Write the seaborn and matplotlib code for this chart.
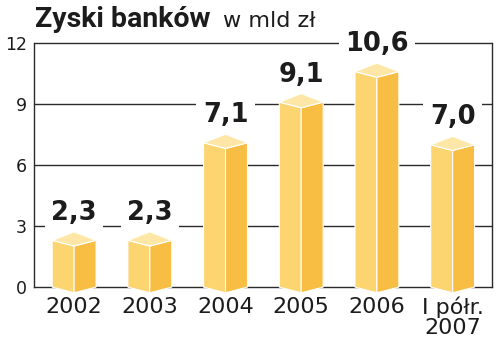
import matplotlib
matplotlib.use("Agg")
import matplotlib.pyplot as plt
import seaborn as sns
import pandas as pd
from matplotlib.patches import Polygon

categories = ["2002", "2003", "2004", "2005", "2006", "I półr.\n2007"]
values = [2.3, 2.3, 7.1, 9.1, 10.6, 7.0]
value_labels = ["2,3", "2,3", "7,1", "9,1", "10,6", "7,0"]
yticks = [0, 3, 6, 9, 12]

title = "Zyski banków"
unit = "w mld zł"

sns.set_theme(style="white")
plt.rcParams["font.family"] = ["DejaVu Sans"]

LEFT = "#FCD470"
RIGHT = "#F8BE44"
TOP = "#FEE7A6"
INK = "#1c1c1c"

df = pd.DataFrame({"cat": categories, "val": values})

fig = plt.figure(figsize=(5.0, 3.48), dpi=100)
ax = fig.add_axes([0.068, 0.175, 0.916, 0.701])

sns.barplot(data=df, x="cat", y="val", color=LEFT, width=0.58, ax=ax,
            saturation=1, zorder=3)

for p, lab in zip(ax.patches, value_labels):
    x0, w, h = p.get_x(), p.get_width(), p.get_height()
    c = x0 + w / 2
    x1 = x0 + w
    p.set_visible(False)
    dn = 0.28
    up = 0.42
    faces = [
        ([(x0, 0), (c, -dn), (c, h - dn), (x0, h)], LEFT),
        ([(c, -dn), (x1, 0), (x1, h), (c, h - dn)], RIGHT),
        ([(x0, h), (c, h - dn), (x1, h), (c, h + up)], TOP),
    ]
    for verts, col in faces:
        ax.add_patch(Polygon(verts, closed=True, facecolor=col,
                             edgecolor="white", linewidth=0.8,
                             zorder=4, clip_on=False))
    ax.text(c, h + 1.35, lab, ha="center", va="center", fontsize=18.5,
            fontweight="bold", color=INK, zorder=6,
            bbox=dict(boxstyle="square,pad=0.25", facecolor="white",
                      edgecolor="none"))

for yv in yticks[1:]:
    ax.axhline(yv, color="#2a2a2a", linewidth=1.0, zorder=1, clip_on=False)

ax.set_ylim(0, 12)
ax.set_xlim(-0.53, 5.52)
ax.set_yticks(yticks)
ax.set_yticklabels([str(v) for v in yticks])
ax.set_xlabel("")
ax.set_ylabel("")
ax.tick_params(axis="y", length=0, pad=5, labelsize=12.5, labelcolor=INK)
ax.tick_params(axis="x", length=0, pad=7, labelsize=16, labelcolor=INK)
for t in ax.get_xticklabels():
    t.set_linespacing(0.95)

for side in ["left", "bottom", "right"]:
    ax.spines[side].set_visible(True)
    ax.spines[side].set_color("#2a2a2a")
    ax.spines[side].set_linewidth(1.0)
ax.spines["top"].set_visible(False)
ax.spines["bottom"].set_zorder(2)

fig.text(0.07, 0.922, title, fontsize=20.5, fontweight="bold", color=INK,
         ha="left", va="baseline", family=["Roboto", "DejaVu Sans"])
fig.text(0.446, 0.922, unit, fontsize=16, color=INK, ha="left",
         va="baseline")

fig.savefig("out.png", dpi=100, facecolor="white")
